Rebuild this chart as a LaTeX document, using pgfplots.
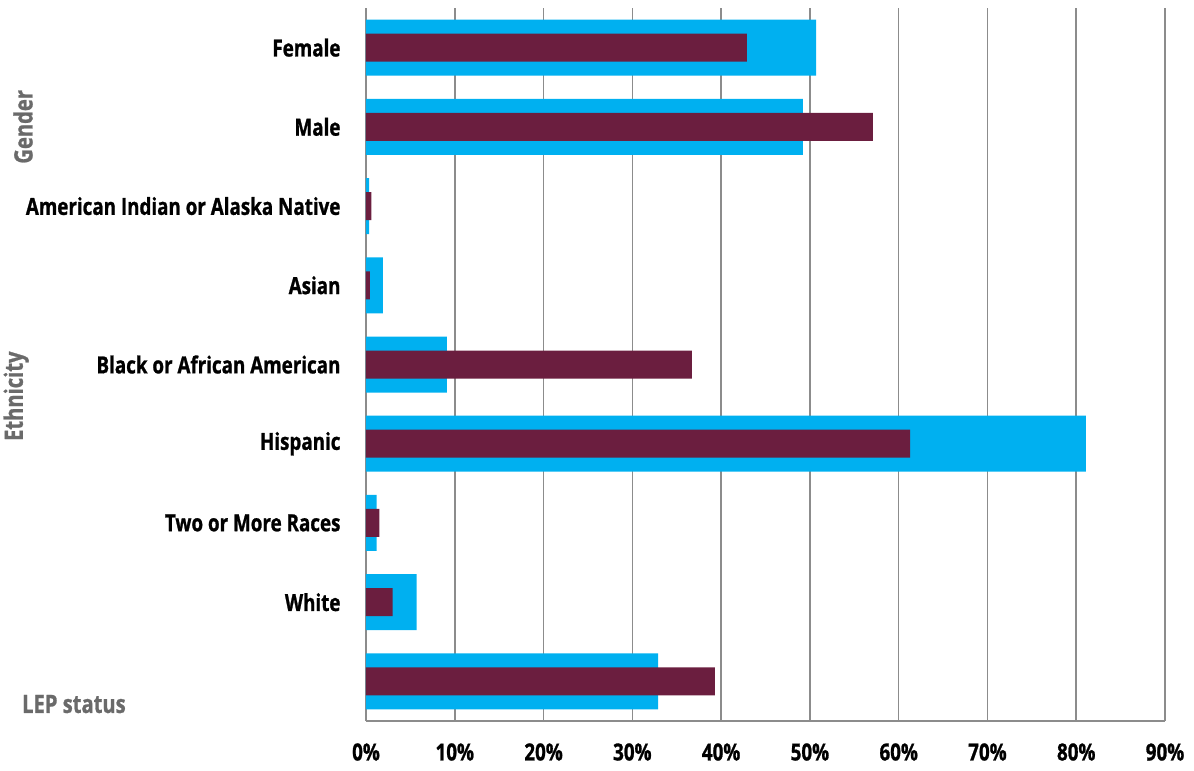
\documentclass[border=0pt]{standalone}
\usepackage{pgfplots}
\pgfplotsset{compat=1.18}
\usepackage{fontspec}
\usetikzlibrary{calc}
\setmainfont{Open Sans}
\newfontfamily\condb{Open Sans}[FakeStretch=0.80, BoldFeatures={FakeBold=1}]
\newcommand{\labfont}{\fontsize{23.5bp}{28bp}\condb\bfseries}
\newcommand{\grpfont}{\fontsize{25.2bp}{30bp}\condb\bfseries}
\definecolor{cblue}{HTML}{00B0F0}
\definecolor{cmaroon}{HTML}{6B1E3F}
\definecolor{axgray}{HTML}{8C8C8C}
\definecolor{grp}{HTML}{6A6A6A}
\begin{document}
\begin{tikzpicture}
\begin{axis}[
  name=ax, scale only axis, width=799bp, height=713bp,
  xbar, bar shift=0pt,
  xmin=0, xmax=90, ymin=-0.5, ymax=8.5, y dir=reverse,
  xtick={0,10,...,90},
  xticklabels={0\%,10\%,20\%,30\%,40\%,50\%,60\%,70\%,80\%,90\%},
  ytick={0,...,7},
  yticklabels={Female,Male,American Indian or Alaska Native,Asian,Black or African American,Hispanic,Two or More Races,White},
  axis x line*=bottom, axis y line*=left,
  axis line style={draw=axgray, line width=1.5bp, -},
  xmajorgrids, grid style={draw=axgray, line width=1.5bp},
  major tick length=0pt,
  tick label style={font=\labfont, text=black},
  xticklabel style={anchor=center, yshift=-31bp},
  yticklabel style={xshift=-22bp},
  clip=false,
]
\addplot[fill=cblue, draw=none, bar width=56bp] coordinates {
 (50.7,0) (49.2,1) (0.35,2) (1.9,3) (9.1,4) (81.1,5) (1.2,6) (5.7,7) (32.9,8)};
\addplot[fill=cmaroon, draw=none, bar width=28bp] coordinates {
 (42.9,0) (57.1,1) (0.6,2) (0.45,3) (36.7,4) (61.3,5) (1.5,6) (3.0,7) (39.3,8)};
\node[rotate=90, text=grp, font=\grpfont, inner sep=0pt] at (axis cs:-38.64,1.0) {Gender};
\node[rotate=90, text=grp, font=\grpfont, inner sep=0pt] at (axis cs:-39.4,4.4) {Ethnicity};
\node[anchor=west, text=grp, font=\grpfont, inner sep=0pt] at (axis cs:-38.75,8.286) {LEP status};
\end{axis}
\pgfresetboundingbox
\path ($(ax.south west)+(-366bp,-50bp)$) rectangle ($(ax.north east)+(29bp,8bp)$);
\end{tikzpicture}
\end{document}
